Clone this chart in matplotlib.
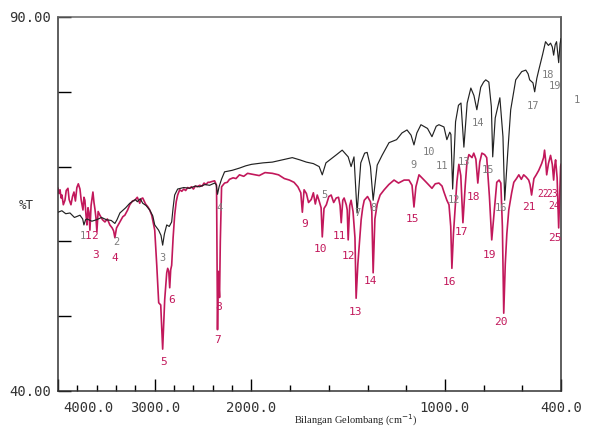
import numpy as np
import matplotlib
matplotlib.use("Agg")
import matplotlib.pyplot as plt
import matplotlib.transforms as mtransforms

# ---------- Data ----------

black_wn = [4000, 3960, 3920, 3876, 3830, 3773, 3745, 3732, 3715, 3700, 3650, 3600, 3550, 3500,
            3450, 3412, 3390, 3360, 3300, 3258, 3200, 3180, 3150, 3124, 3090, 3052, 3020, 3000,
            2960, 2935, 2918, 2900, 2876, 2850, 2825, 2810, 2794, 2763, 2700, 2640, 2580, 2536,
            2480, 2433, 2381, 2365, 2351, 2335, 2310, 2278, 2200, 2124, 2060, 2000, 1940, 1892,
            1840, 1789, 1750, 1716, 1680, 1650, 1634, 1615, 1590, 1560, 1531, 1500, 1485, 1470,
            1454, 1435, 1415, 1402, 1385, 1371, 1350, 1325, 1289, 1250, 1222, 1196, 1175, 1160,
            1145, 1124, 1090, 1067, 1045, 1031, 1005, 990, 975, 969, 960, 945, 930, 917, 902,
            885, 866, 850, 835, 815, 800, 789, 773, 760, 753, 740, 716, 700, 691, 675, 660, 634,
            603, 582, 570, 562, 545, 536, 525, 515, 495, 480, 465, 454, 445, 438, 430, 423, 412,
            405, 400]
black_t = [63.9, 64.1, 63.7, 63.8, 63.2, 63.5, 63.0, 62.2, 62.9, 63.0, 62.7, 62.9, 63.2, 62.9,
           62.8, 62.4, 62.9, 63.8, 64.5, 65.1, 65.6, 65.3, 65.7, 65.1, 64.8, 64.2, 63.4, 62.2,
           61.5, 60.8, 59.5, 61.0, 62.2, 62.0, 62.6, 64.5, 66.2, 67.0, 67.2, 67.1, 67.4, 67.3,
           67.6, 67.5, 67.8, 67.6, 66.3, 67.3, 68.3, 69.3, 69.5, 69.8, 70.1, 70.3, 70.5, 70.6,
           70.9, 71.2, 70.9, 70.6, 70.4, 70.0, 68.9, 70.5, 71.0, 71.6, 72.2, 71.3, 70.0, 71.3,
           63.8, 70.5, 71.8, 71.9, 70.0, 65.5, 70.2, 71.5, 73.2, 73.6, 74.5, 74.9, 74.2, 72.9,
           74.5, 75.6, 75.1, 74.0, 75.4, 75.6, 75.3, 73.6, 74.6, 74.3, 67.0, 76.0, 78.2, 78.5, 72.6,
           78.5, 80.5, 79.5, 77.6, 80.6, 81.3, 81.6, 81.3, 78.0, 71.3, 76.5, 79.2, 74.0, 65.5, 72.0, 77.6, 81.6,
           82.7, 82.9, 82.4, 81.6, 81.2, 80.0, 81.8, 82.9, 85.0, 86.7, 86.2, 86.5, 86.0, 84.9, 86.3, 86.7, 83.9,
           86.4, 87.1]

red_wn = [4000, 3990, 3979, 3968, 3959, 3945, 3928, 3915, 3897, 3885, 3866, 3850, 3835, 3820,
          3805, 3790, 3773, 3760, 3742, 3732, 3722, 3711, 3701, 3690, 3680, 3670, 3658, 3639,
          3628, 3618, 3608, 3598, 3585, 3567, 3540, 3515, 3490, 3464, 3440, 3425, 3412, 3395,
          3361, 3330, 3309, 3280, 3258, 3230, 3206, 3180, 3155, 3140, 3124, 3095, 3070, 3052,
          3031, 3000, 2979, 2959, 2938, 2918, 2897, 2876, 2866, 2855, 2845, 2835, 2825, 2810,
          2794, 2778, 2763, 2742, 2720, 2700, 2680, 2660, 2640, 2620, 2600, 2580, 2560, 2536,
          2510, 2490, 2470, 2450, 2433, 2410, 2381, 2361, 2351, 2343, 2337, 2330, 2322, 2309,
          2278, 2250, 2227, 2190, 2160, 2124, 2080, 2040, 2000, 1960, 1930, 1892, 1860, 1830,
          1804, 1780, 1760, 1745, 1737, 1728, 1716, 1705, 1691, 1680, 1670, 1660, 1650, 1640,
          1634, 1625, 1613, 1600, 1588, 1575, 1562, 1550, 1542, 1536, 1528, 1521, 1510, 1505,
          1500, 1492, 1485, 1475, 1465, 1459, 1450, 1440, 1433, 1425, 1417, 1400, 1385, 1378,
          1371, 1362, 1350, 1335, 1314, 1290, 1263, 1240, 1211, 1186, 1170, 1160, 1150, 1134,
          1100, 1067, 1050, 1031, 1015, 1005, 990, 979, 970, 964, 956, 948, 938, 928, 918, 907,
          895, 886, 876, 860, 851, 840, 830, 820, 809, 795, 784, 770, 758, 745, 732, 720, 711,
          703, 696, 688, 680, 670, 655, 644, 630, 618, 605, 593, 580, 567, 560, 552, 540, 528,
          515, 500, 490, 485, 480, 474, 465, 454, 445, 438, 433, 428, 420, 412, 406, 402, 400]
red_t = [67.1, 66.4, 66.9, 65.8, 66.2, 64.9, 65.5, 66.8, 67.1, 65.6, 64.9, 66.0, 66.6, 65.4,
         67.2, 67.7, 67.0, 65.5, 64.2, 65.9, 65.5, 63.6, 62.2, 64.5, 63.9, 61.5, 64.8, 66.6,
         65.2, 64.3, 63.2, 61.3, 64.0, 63.5, 62.9, 62.6, 63.0, 62.2, 61.8, 61.4, 60.5, 61.8,
         62.6, 63.3, 63.5, 64.2, 64.9, 65.4, 65.5, 65.9, 65.1, 65.7, 65.8, 65.0, 64.6, 64.2,
         63.5, 61.5, 56.8, 51.8, 51.5, 45.6, 52.2, 55.8, 56.4, 56.0, 53.8, 56.2, 56.8, 60.5,
         63.5, 65.3, 66.2, 66.9, 66.7, 67.0, 66.8, 67.2, 67.1, 67.3, 67.0, 67.4, 67.3, 67.5,
         67.4, 67.8, 67.6, 67.9, 67.9, 68.0, 68.1, 67.5, 48.2, 56.0, 54.5, 52.5, 60.0, 67.3,
         67.8, 67.9, 68.3, 68.5, 68.4, 68.9, 68.7, 69.1, 69.0, 68.8, 69.2, 69.1, 68.9, 68.4,
         68.2, 67.9, 67.3, 66.5, 63.9, 66.9, 66.4, 65.2, 65.6, 66.5, 65.0, 66.2, 65.4, 64.5,
         60.6, 64.4, 64.9, 66.0, 66.2, 65.2, 65.8, 65.9, 64.8, 62.5, 65.5, 65.8, 64.9, 64.2,
         60.2, 64.8, 65.5, 64.0, 60.5, 52.4, 57.0, 60.5, 62.9, 64.5, 65.5, 66.0, 65.3, 64.0,
         55.8, 63.0, 65.0, 66.2, 66.9, 67.6, 68.2, 67.8, 68.2, 68.2, 67.5, 64.6, 67.3, 68.9,
         68.0, 67.1, 67.7, 67.8, 67.4, 66.6, 65.5, 64.9, 62.0, 56.4, 61.0, 64.2, 68.0, 70.3, 68.8, 62.5,
         67.5, 70.6, 71.6, 71.2, 71.8, 71.0, 67.8, 70.6, 71.8, 71.6, 71.2, 66.0, 60.2, 64.0, 67.9, 68.2, 67.8,
         62.0, 50.4, 57.0, 61.0, 64.2, 66.5, 67.9, 68.4, 68.9, 68.3, 68.9, 68.6, 68.2, 67.6, 66.2, 68.4, 68.9,
         69.5, 70.4, 71.2, 72.2, 71.0, 68.9, 70.4, 71.5, 70.3, 68.2, 70.0, 70.9, 68.5, 61.8, 67.0, 70.0, 70.3]

# peak numbers on the red trace
red_lab_txt = ["1", "2", "3", "4", "5", "6", "7", "8", "9", "10", "11", "12", "13", "14", "15",
               "16", "17", "18", "19", "20", "21", "22", "23", "24", "25"]
red_lab_wn = [3685, 3625, 3608, 3412, 2907, 2825, 2351, 2340, 1727, 1644, 1546, 1500, 1464, 1387,
              1170, 974, 917, 851, 768, 711, 567, 492, 448, 433, 433]
red_lab_t = [60.7, 60.7, 58.2, 57.8, 43.9, 52.2, 46.8, 51.2, 62.3, 59.0, 60.7, 58.1, 50.6, 54.7,
             63.0, 54.6, 61.3, 65.9, 58.2, 49.2, 64.6, 66.3, 66.3, 64.7, 60.5]

# peak numbers on the black trace
blk_lab_txt = ["1", "2", "3", "4", "5", "7", "8", "9", "10", "11", "12", "13", "14", "15", "16",
               "17", "18", "19", "1"]
blk_lab_wn = [3740, 3392, 2918, 2330, 1624, 1454, 1371, 1160, 1082, 1015, 954, 902, 830, 778, 711,
              546, 469, 433, 319]
blk_lab_t = [60.7, 59.9, 57.8, 64.5, 66.2, 63.8, 64.5, 70.2, 72.0, 70.1, 65.5, 70.6, 75.8, 69.6,
             64.5, 78.1, 82.3, 80.8, 78.9]

x_major = [4000, 3000, 2000, 1000, 400]
x_major_txt = ["4000.0", "3000.0", "2000.0", "1000.0", "400.0"]
y_ticks = [40, 50, 60, 70, 80, 90]
y_ticks_txt = ["40.00", "", "", "", "", "90.00"]

red = "#c2185b"
grey = "#7d7d7d"
mono = "DejaVu Sans Mono"


# x axis is compressed by 2 above 2000 cm-1
def fwd(w):
    w = np.asarray(w, dtype=float)
    return np.where(w >= 2000, (w - 2000) * 0.5 + 1600, w - 400)


def inv(s):
    s = np.asarray(s, dtype=float)
    return np.where(s >= 1600, (s - 1600) * 2 + 2000, s + 400)


# ---------- Plot ----------

fig = plt.figure(figsize=(5.91, 4.30), dpi=100)
ax = fig.add_axes([58 / 591, 1 - 391 / 430, (561 - 58) / 591, (391 - 17) / 430])
ax.set_xscale("function", functions=(fwd, inv))

ax.plot(black_wn, black_t, color="#222222", lw=0.85, zorder=3)
ax.plot(red_wn, red_t, color=red, lw=1.2, zorder=2)

ax.set_xlim(4000, 400)
ax.set_ylim(40, 90)

ax.set_xticks(x_major)
ax.set_xticklabels(x_major_txt)
ax.set_xticks([w for w in range(3800, 400, -200) if w not in x_major], minor=True)
ax.set_yticks(y_ticks)
ax.set_yticklabels(y_ticks_txt)
ax.yaxis.set_minor_locator(matplotlib.ticker.NullLocator())

ax.tick_params(axis="x", which="major", direction="in", length=9, width=1.0, pad=7,
               labelsize=10)
ax.tick_params(axis="x", which="minor", direction="in", length=4.5, width=1.0)
ax.tick_params(axis="y", direction="in", length=9, width=1.0, pad=5, labelsize=10)
for lab in ax.get_xticklabels() + ax.get_yticklabels():
    lab.set_family(mono)
    lab.set_color("#333333")

# shift the first x label right like the original
first = ax.get_xticklabels()[0]
first.set_transform(first.get_transform() + mtransforms.ScaledTranslation(30 / 100, 0, fig.dpi_scale_trans))

for s in ax.spines.values():
    s.set_color("#333333")
    s.set_linewidth(1.1)
ax.spines["top"].set_color("#666666")

ax.text(-0.048, 0.497, "%T", transform=ax.transAxes, fontsize=9, family=mono,
        color="#333333", ha="right", va="center")

for t, w, v in zip(red_lab_txt, red_lab_wn, red_lab_t):
    fs = 7 if t in ("22", "23", "24") else 8
    ax.text(w, v, t, color=red, fontsize=fs, family=mono, ha="center", va="center", zorder=4)

for t, w, v in zip(blk_lab_txt, blk_lab_wn, blk_lab_t):
    ax.text(w, v, t, color=grey, fontsize=7.5, family=mono, ha="center", va="center",
            zorder=4, clip_on=False)

fig.text(356 / 591, 1 - 420 / 430, "Bilangan Gelombang (cm$^{-1}$)", fontsize=7.5,
         family="Liberation Serif", ha="center", va="center", color="#222222")

fig.savefig("out.png", dpi=100)
